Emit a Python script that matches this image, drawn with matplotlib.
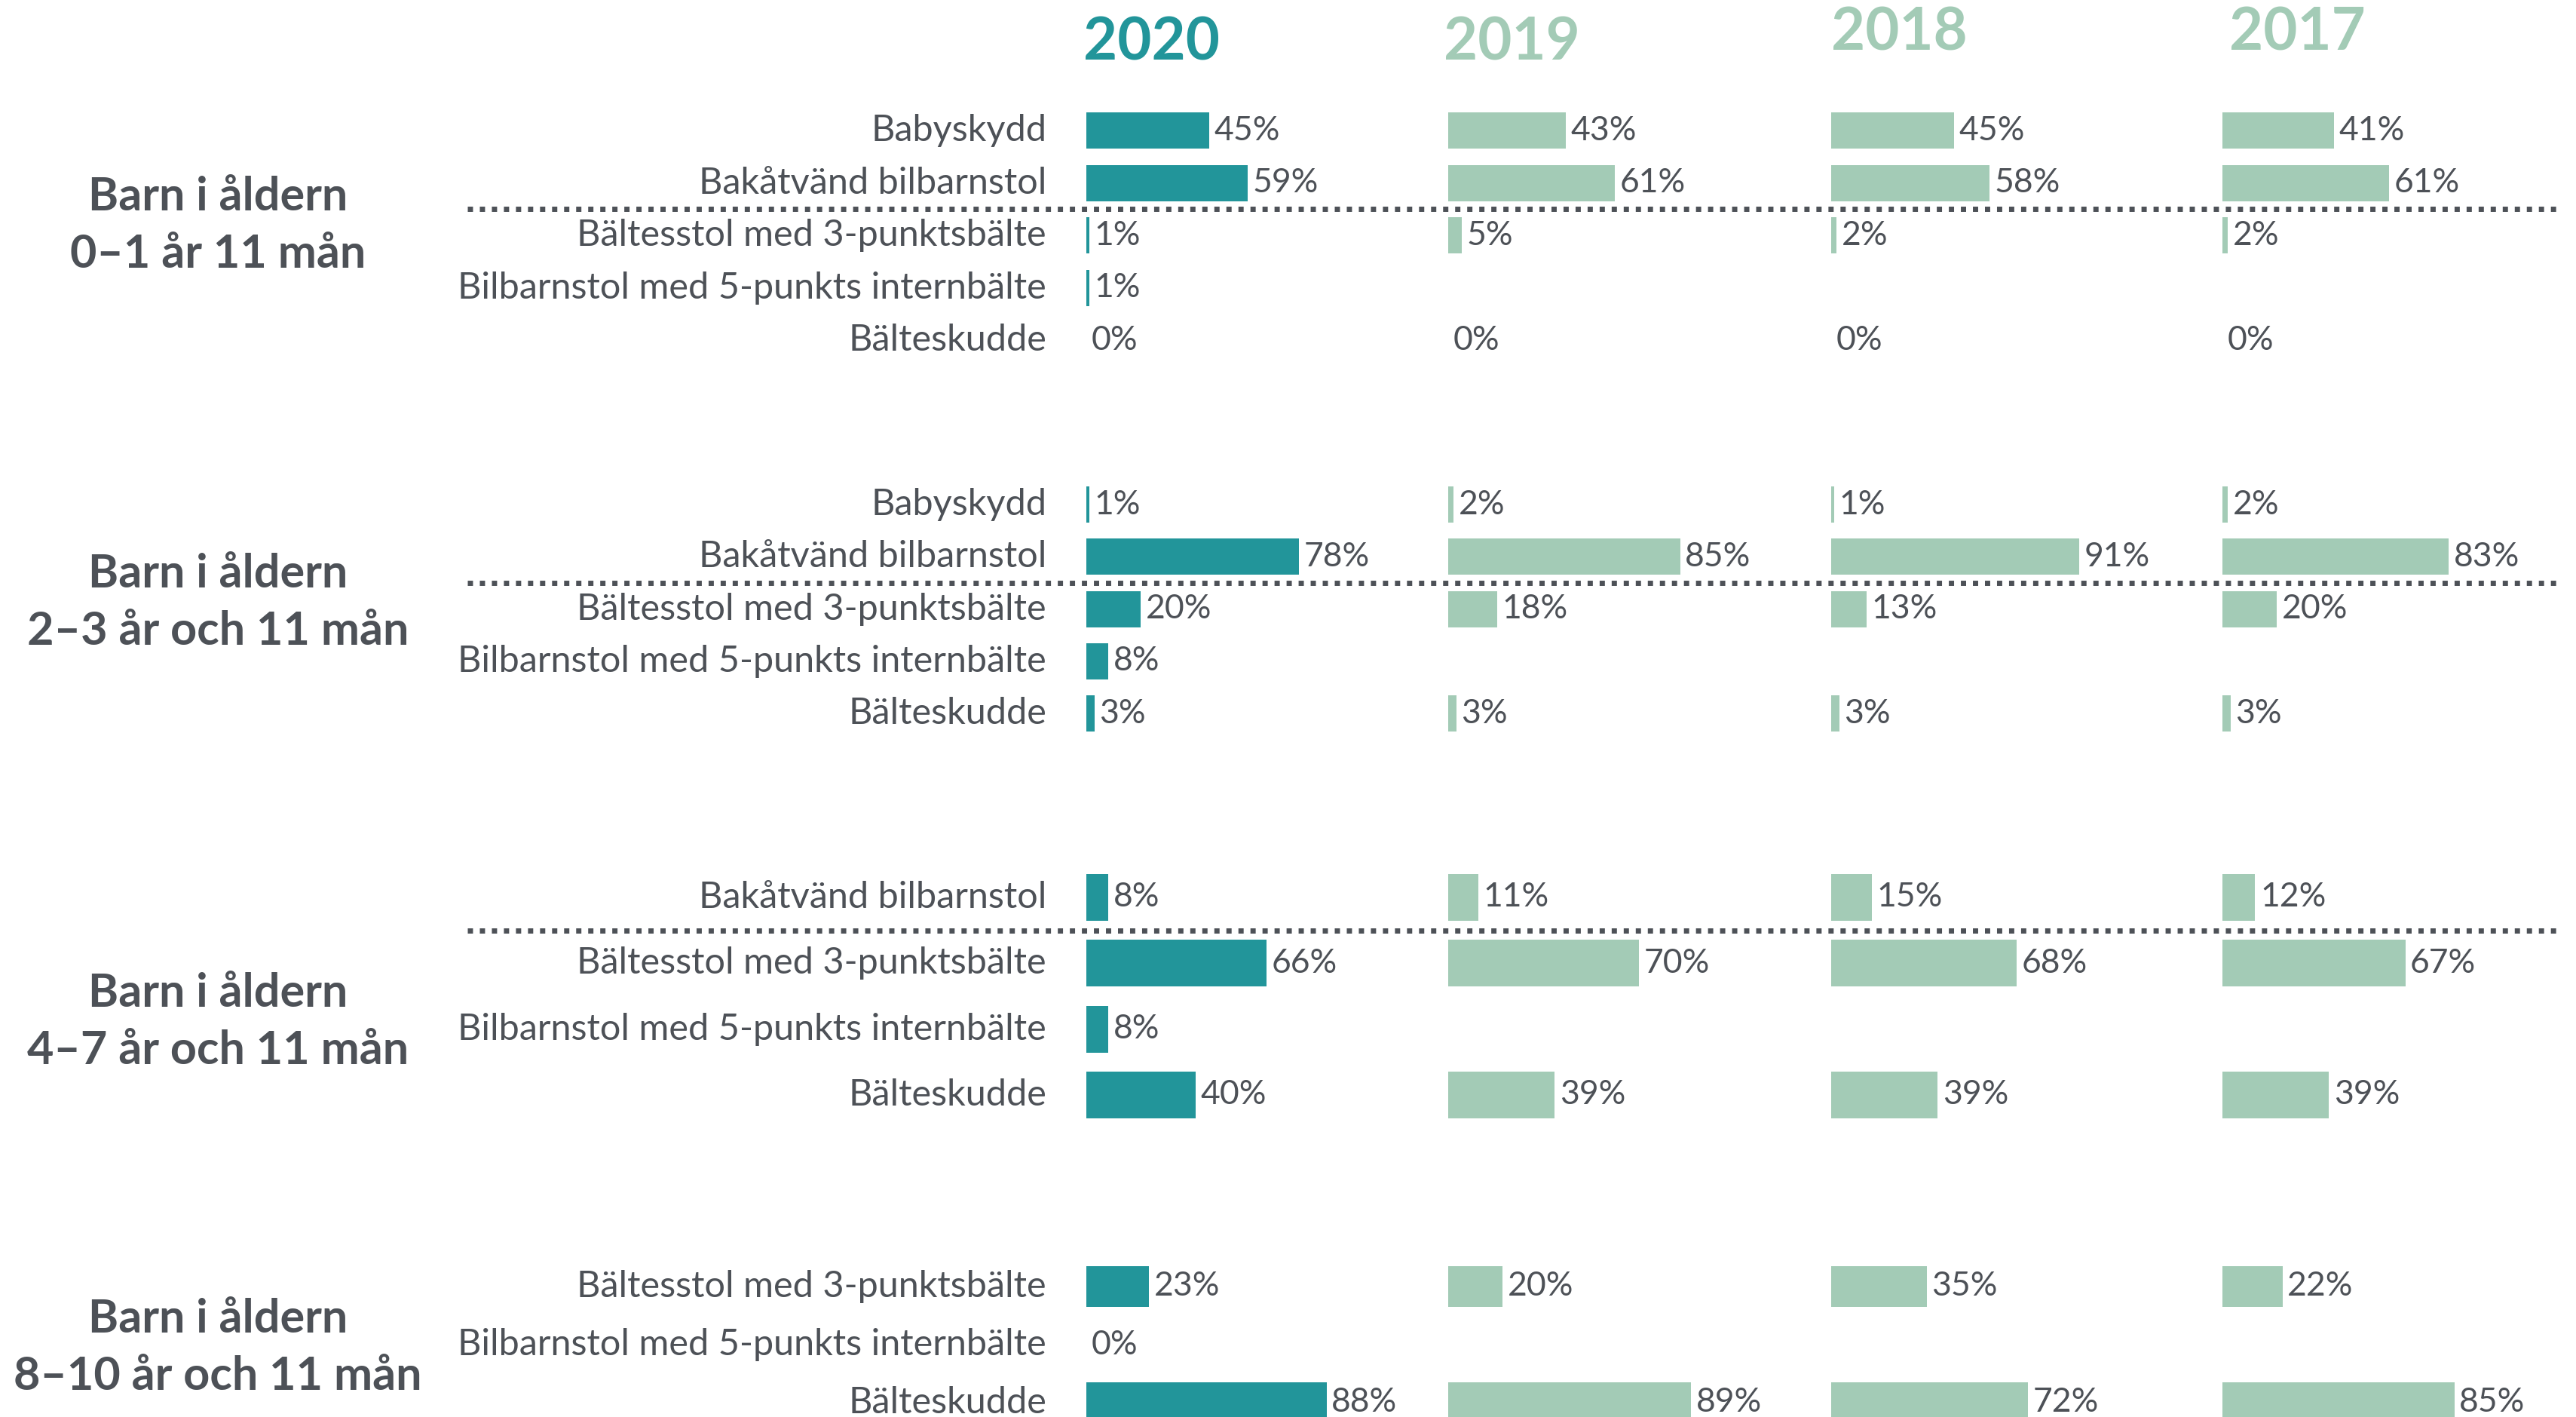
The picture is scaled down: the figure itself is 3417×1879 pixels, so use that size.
import matplotlib
matplotlib.use("Agg")
import matplotlib.pyplot as plt

plt.rcParams['font.family'] = ['Lato', 'DejaVu Sans']

# ---- data ----
years = ["2020", "2019", "2018", "2017"]

group_labels = [
    "Barn i åldern\n0–1 år 11 mån",
    "Barn i åldern\n2–3 år och 11 mån",
    "Barn i åldern\n4–7 år och 11 mån",
    "Barn i åldern\n8–10 år och 11 mån",
]

g1_cats = ["Babyskydd", "Bakåtvänd bilbarnstol", "Bältesstol med 3-punktsbälte",
           "Bilbarnstol med 5-punkts internbälte", "Bälteskudde"]
g2_cats = ["Babyskydd", "Bakåtvänd bilbarnstol", "Bältesstol med 3-punktsbälte",
           "Bilbarnstol med 5-punkts internbälte", "Bälteskudde"]
g3_cats = ["Bakåtvänd bilbarnstol", "Bältesstol med 3-punktsbälte",
           "Bilbarnstol med 5-punkts internbälte", "Bälteskudde"]
g4_cats = ["Bältesstol med 3-punktsbälte", "Bilbarnstol med 5-punkts internbälte",
           "Bälteskudde"]

# one list per year (2020, 2019, 2018, 2017); None = not asked that year
g1_vals = [[45, 59, 1, 1, 0],
           [43, 61, 5, None, 0],
           [45, 58, 2, None, 0],
           [41, 61, 2, None, 0]]
g2_vals = [[1, 78, 20, 8, 3],
           [2, 85, 18, None, 3],
           [1, 91, 13, None, 3],
           [2, 83, 20, None, 3]]
g3_vals = [[8, 66, 8, 40],
           [11, 70, None, 39],
           [15, 68, None, 39],
           [12, 67, None, 39]]
g4_vals = [[23, 0, 88],
           [20, None, 89],
           [35, None, 72],
           [22, None, 85]]

# ---- layout (pixels) ----
W, H = 3417, 1879
PX_PER_PCT = 3.62
panel_x = [1441, 1921, 2429, 2948]
title_xy = [(1437, 57), (1915, 57), (2429, 44), (2957, 44)]
# first row centre, row pitch, bar height
group_rows = [(173, 69.5, 48), (669, 69.3, 48), (1190, 87.3, 62), (1706, 77, 54)]
group_label_y = [299, 799, 1355, 1787]
cat_right = 1388
dots_from, dots_to = 620, 3395

teal = "#22959A"
mint = "#A3CBB6"
grey = "#4D5157"
bar_colors = [teal, mint, mint, mint]

groups = [(g1_cats, g1_vals), (g2_cats, g2_vals), (g3_cats, g3_vals), (g4_cats, g4_vals)]

fig = plt.figure(figsize=(W / 100, H / 100), dpi=100)
base = fig.add_axes([0, 0, 1, 1])
base.set_xlim(0, W)
base.set_ylim(H, 0)
base.axis("off")

# year panels
panel_axes = []
for px in panel_x:
    span = 460
    a = fig.add_axes([px / W, 0, span / W, 1])
    a.set_xlim(0, span / PX_PER_PCT)
    a.set_ylim(H, 0)
    a.axis("off")
    panel_axes.append(a)

for gi, (cats, vals) in enumerate(groups):
    y0, pitch, bh = group_rows[gi]
    ys = [y0 + i * pitch for i in range(len(cats))]

    base.text(289, group_label_y[gi], group_labels[gi], ha="center", va="center",
              fontsize=44, fontweight="bold", color=grey, linespacing=1.45)

    for y, c in zip(ys, cats):
        base.text(cat_right, y, c, ha="right", va="center", fontsize=35, color=grey)

    if "Bakåtvänd bilbarnstol" in cats:
        k = cats.index("Bakåtvänd bilbarnstol")
        yl = (ys[k] + ys[k + 1]) / 2
        base.plot([dots_from, dots_to], [yl, yl], color=grey, lw=5.0,
                  linestyle=(0, (1.0, 1.3)), solid_capstyle="butt", dash_capstyle="butt")

    for yi, a in enumerate(panel_axes):
        row_y = [y for y, v in zip(ys, vals[yi]) if v is not None]
        row_v = [v for v in vals[yi] if v is not None]
        a.barh(row_y, row_v, height=bh, color=bar_colors[yi], linewidth=0)
        for y, v in zip(row_y, row_v):
            a.text(v + 1.8, y, f"{v}%", ha="left", va="center", fontsize=32, color=grey)

for (tx, ty), yr, col in zip(title_xy, years, bar_colors):
    base.text(tx, ty, yr, ha="left", va="center", fontsize=56, fontweight="bold", color=col)

fig.savefig("out.png", dpi=100, facecolor="white")
